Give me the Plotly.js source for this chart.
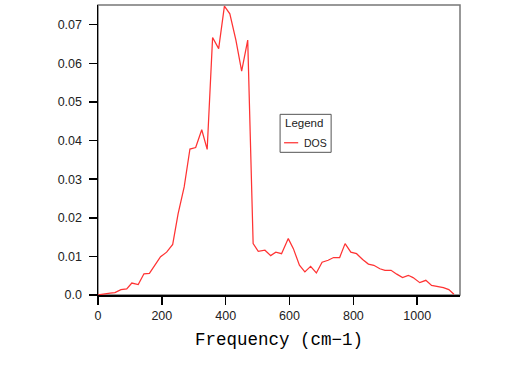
<!DOCTYPE html>
<html>
<head>
<meta charset="utf-8">
<script src="https://cdn.plot.ly/plotly-3.0.1.min.js"></script>
<style>
  html, body { margin: 0; padding: 0; background: #fff; }
  #chart { width: 527px; height: 368px; }
</style>
</head>
<body>
<div id="chart"></div>
<script>
// Frequency (cm-1)
const frequency = [0, 19, 38, 53, 72, 90, 106, 126, 144, 161, 179, 196, 215, 234, 251, 270, 288, 306, 325, 342,
  359, 378, 396, 413, 432, 450, 469, 486, 502, 523, 541, 557, 575, 596, 612, 631, 648, 666, 684, 702,
  721, 738, 757, 774, 792, 810, 829, 847, 864, 883, 899, 918, 936, 954, 972, 987, 1008, 1027, 1045, 1063,
  1082, 1099, 1115];
// DOS values
const dos = [0.0000, 0.0003, 0.0005, 0.0006, 0.0014, 0.0016, 0.0031, 0.0027, 0.0055, 0.0056, 0.0077, 0.0099,
  0.0111, 0.0131, 0.0211, 0.0280, 0.0378, 0.0382, 0.0428, 0.0377, 0.0667, 0.0638, 0.0748, 0.0728, 0.0660,
  0.0580, 0.0660, 0.0133, 0.0113, 0.0116, 0.0102, 0.0111, 0.0107, 0.0146, 0.0120, 0.0077, 0.0060, 0.0074,
  0.0057, 0.0085, 0.0090, 0.0097, 0.0097, 0.0133, 0.0111, 0.0107, 0.0092, 0.0080, 0.0077, 0.0068, 0.0064,
  0.0064, 0.0054, 0.0045, 0.0051, 0.0045, 0.0032, 0.0038, 0.0025, 0.0023, 0.0019, 0.0014, 0.0002];
const xTicks = [0, 200, 400, 600, 800, 1000];
const yTicks = [0.0, 0.01, 0.02, 0.03, 0.04, 0.05, 0.06, 0.07];
const yTickText = ['0.0', '0.01', '0.02', '0.03', '0.04', '0.05', '0.06', '0.07'];
const seriesName = 'DOS';
const legendTitle = 'Legend';
const lineColor = '#ff3333';

const sans = 'Liberation Sans, Arial, sans-serif';
const tickFont = {family: sans, size: 12.5, color: '#222'};

const data = [{
  x: frequency, y: dos, type: 'scatter', mode: 'lines', name: seriesName,
  line: {color: lineColor, width: 1.25}, showlegend: false
}];

const layout = {
  width: 527, height: 368,
  margin: {l: 98, r: 67, t: 4.5, b: 73},
  paper_bgcolor: '#fff', plot_bgcolor: '#fff',
  showlegend: false,
  xaxis: {
    range: [0, 1134], tickvals: xTicks, ticktext: xTicks.map(String),
    showgrid: false, zeroline: false,
    showline: true, linecolor: '#000', linewidth: 1.5,
    ticks: 'outside', ticklen: 8, tickwidth: 1.5, tickcolor: '#000',
    tickfont: tickFont,
    title: {text: 'Frequency (cm\u22121)', font: {family: 'Liberation Mono, Courier New, monospace', size: 17.5, color: '#000'}, standoff: 11}
  },
  yaxis: {
    range: [0, 0.0751], tickvals: yTicks, ticktext: yTickText,
    showgrid: false, zeroline: false,
    showline: true, linecolor: '#000', linewidth: 1.5,
    ticks: 'outside', ticklen: 8, tickwidth: 1.5, tickcolor: '#000',
    tickfont: tickFont, ticklabelstandoff: 4
  },
  shapes: [
    {type: 'rect', xref: 'paper', yref: 'paper', x0: 0, x1: 1, y0: 0, y1: 1,
     line: {color: '#777', width: 1.5}, layer: 'below'},
    // legend box
    {type: 'rect', xref: 'paper', yref: 'paper', x0: 0.503, x1: 0.644, y0: 0.492, y1: 0.623,
     line: {color: '#555', width: 1}, fillcolor: '#fff', layer: 'above'},
    {type: 'line', xref: 'paper', yref: 'paper', x0: 0.514, x1: 0.553, y0: 0.525, y1: 0.525,
     line: {color: lineColor, width: 1.25}, layer: 'above'}
  ],
  annotations: [
    {xref: 'paper', yref: 'paper', x: 0.512, y: 0.592, xanchor: 'left', yanchor: 'middle',
     text: legendTitle, showarrow: false, font: {family: sans, size: 11.5, color: '#222'}},
    {xref: 'paper', yref: 'paper', x: 0.564, y: 0.525, xanchor: 'left', yanchor: 'middle',
     text: seriesName, showarrow: false, font: {family: sans, size: 10.5, color: '#222'}}
  ]
};

Plotly.newPlot('chart', data, layout, {staticPlot: true, displayModeBar: false});
</script>
</body>
</html>
